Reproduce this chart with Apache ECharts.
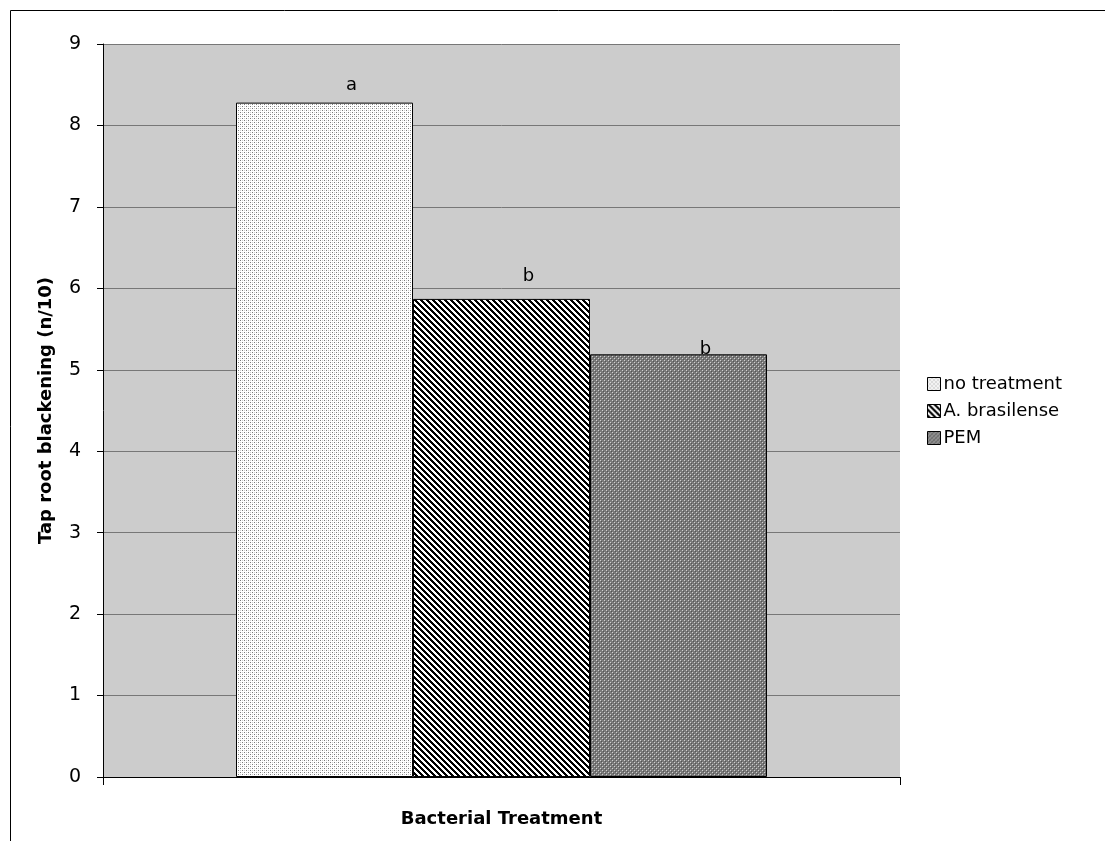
<!DOCTYPE html>
<html>
<head>
<meta charset="utf-8">
<script src="https://cdn.jsdelivr.net/npm/echarts@6/dist/echarts.min.js"></script>
<style>
html,body{margin:0;padding:0;background:#fff;}
#chart{width:1105px;height:841px;}
</style>
</head>
<body>
<div id="chart"></div>
<script>
// Data
var categories = [''];
var seriesNames = ['no treatment', 'A. brasilense', 'PEM'];
var seriesValues = [8.28, 5.87, 5.19];
var seriesLetters = ['a', 'b', 'b'];
var yTicks = [0, 1, 2, 3, 4, 5, 6, 7, 8, 9];

function makePattern(kind) {
  var c = document.createElement('canvas');
  var ctx;
  if (kind === 'dots') {
    c.width = 4; c.height = 4;
    ctx = c.getContext('2d');
    ctx.fillStyle = '#ffffff'; ctx.fillRect(0, 0, 4, 4);
    ctx.fillStyle = '#7a7a7a';
    ctx.fillRect(0, 0, 1, 1); ctx.fillRect(2, 2, 1, 1);
    ctx.fillStyle = '#cfcfcf';
    ctx.fillRect(2, 0, 1, 1); ctx.fillRect(0, 2, 1, 1);
  } else if (kind === 'hatch') {
    c.width = 6; c.height = 6;
    ctx = c.getContext('2d');
    for (var y = 0; y < 6; y++) {
      for (var x = 0; x < 6; x++) {
        var m = ((x - y) % 6 + 6) % 6;
        ctx.fillStyle = m < 3 ? '#000000' : '#ffffff';
        ctx.fillRect(x, y, 1, 1);
      }
    }
  } else {
    c.width = 4; c.height = 4;
    ctx = c.getContext('2d');
    ctx.fillStyle = '#7a7a7a'; ctx.fillRect(0, 0, 4, 4);
    ctx.fillStyle = '#d0d0d0';
    ctx.fillRect(0, 0, 1, 1); ctx.fillRect(2, 2, 1, 1);
    ctx.fillStyle = '#555555';
    ctx.fillRect(1, 1, 1, 1); ctx.fillRect(3, 3, 1, 1);
  }
  return c;
}

var patterns = [makePattern('dots'), makePattern('hatch'), makePattern('gray')];
var labelDistances = [8, 14, -4];

var series = seriesNames.map(function (name, i) {
  return {
    name: name,
    type: 'bar',
    barWidth: 177,
    barGap: '0%',
    data: [seriesValues[i]],
    itemStyle: {
      color: { image: patterns[i], repeat: 'repeat' },
      borderColor: '#000',
      borderWidth: 1
    },
    label: {
      show: true,
      position: 'top',
      distance: labelDistances[i],
      offset: [27, 0],
      formatter: seriesLetters[i],
      color: '#000',
      fontSize: 18,
      fontFamily: 'DejaVu Sans'
    }
  };
});

var chart = echarts.init(document.getElementById('chart'), null, { renderer: 'canvas' });
chart.setOption({
  animation: false,
  backgroundColor: '#ffffff',
  textStyle: { fontFamily: 'DejaVu Sans' },
  graphic: [{
    type: 'rect',
    shape: { x: 10.5, y: 10.5, width: 1200, height: 1000 },
    style: { fill: 'none', stroke: '#000', lineWidth: 1 },
    silent: true,
    z: -10
  }],
  grid: {
    left: 103, top: 44, right: 205, bottom: 64,
    show: true, backgroundColor: '#cccccc', borderWidth: 0
  },
  legend: {
    orient: 'vertical',
    left: 922, top: 370,
    itemWidth: 13, itemHeight: 13, itemGap: 9,
    icon: 'rect',
    itemStyle: { borderColor: '#000', borderWidth: 1 },
    textStyle: { fontSize: 18, color: '#000', fontFamily: 'DejaVu Sans', padding: [0, 0, 0, -2] },
    data: seriesNames
  },
  xAxis: {
    type: 'category',
    data: categories,
    boundaryGap: true,
    name: 'Bacterial Treatment',
    nameLocation: 'middle',
    nameGap: 33,
    nameTextStyle: { fontSize: 18, fontWeight: 'bold', color: '#000', fontFamily: 'DejaVu Sans' },
    axisLine: { show: true, lineStyle: { color: '#000', width: 1 } },
    axisTick: { show: true, length: 8, lineStyle: { color: '#000' }, alignWithLabel: false },
    axisLabel: { show: false },
    splitLine: { show: false }
  },
  yAxis: {
    type: 'value',
    min: 0, max: 9, interval: 1,
    name: 'Tap root blackening (n/10)',
    nameLocation: 'middle',
    nameGap: 48,
    nameRotate: 90,
    nameTextStyle: { fontSize: 18, fontWeight: 'bold', color: '#000', fontFamily: 'DejaVu Sans' },
    axisLine: { show: true, lineStyle: { color: '#000', width: 1 } },
    axisTick: { show: true, inside: false, length: 6, lineStyle: { color: '#000' } },
    axisLabel: {
      color: '#000', fontSize: 19, margin: 22, fontFamily: 'DejaVu Sans',
      formatter: function (v) { return yTicks.indexOf(v) >= 0 ? String(v) : ''; }
    },
    splitLine: { show: true, lineStyle: { color: '#777777', width: 1 } }
  },
  series: series
});
</script>
</body>
</html>
